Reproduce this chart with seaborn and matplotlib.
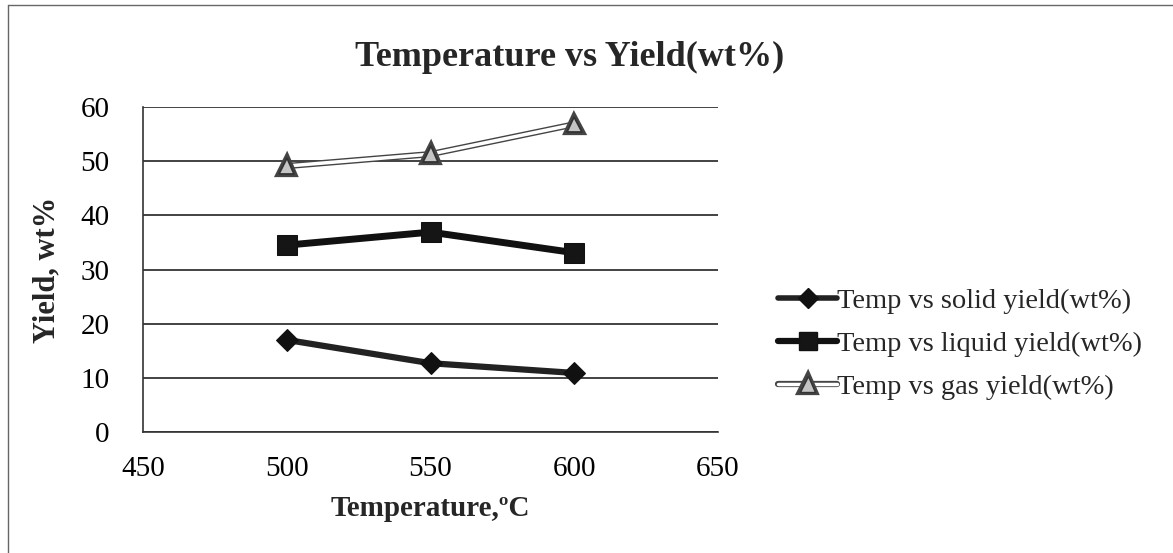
import matplotlib
matplotlib.use("Agg")
import matplotlib.pyplot as plt
import matplotlib.patheffects as pe
from matplotlib.lines import Line2D
import seaborn as sns
import pandas as pd

temps = [500, 550, 600]
solid = [17.0, 12.7, 10.9]
liquid = [34.5, 36.9, 33.1]
gas = [49.1, 51.3, 56.8]
labels = ["Temp vs solid yield(wt%)", "Temp vs liquid yield(wt%)", "Temp vs gas yield(wt%)"]
xticks = [450, 500, 550, 600, 650]
yticks = [0, 10, 20, 30, 40, 50, 60]

sns.set_theme(style="white")
plt.rcParams['font.family'] = ['Liberation Serif', 'DejaVu Serif']

fig = plt.figure(figsize=(11.73, 5.53), dpi=100)
ax = fig.add_axes([143/1173, 1 - 432/553, 575/1173, 325/553])

df_s = pd.DataFrame({"T": temps, "Y": solid})
df_l = pd.DataFrame({"T": temps, "Y": liquid})
df_g = pd.DataFrame({"T": temps, "Y": gas})

sns.lineplot(data=df_s, x="T", y="Y", ax=ax, color="#222222", lw=4.5,
             marker="D", markersize=11, markerfacecolor="#111111",
             markeredgecolor="#111111", zorder=3)
sns.lineplot(data=df_l, x="T", y="Y", ax=ax, color="#111111", lw=5,
             marker="s", markersize=15, markerfacecolor="#151515",
             markeredgecolor="#111111", zorder=3)
sns.lineplot(data=df_g, x="T", y="Y", ax=ax, color="white", lw=2.5,
             marker="^", markersize=11, markerfacecolor="#c4c4c4",
             markeredgecolor="#333333", markeredgewidth=1.3, zorder=3,
             path_effects=[pe.Stroke(linewidth=4.5, foreground="#444444"), pe.Normal()])

ax.set_xlim(450, 650)
ax.set_ylim(0, 60)
ax.set_xticks(xticks)
ax.set_yticks(yticks)
ax.tick_params(axis="x", labelsize=21, colors="black", length=0, pad=17)
ax.tick_params(axis="y", labelsize=21, colors="black", length=0, pad=24)
ax.yaxis.grid(True, color="#222222", lw=1.2)
ax.xaxis.grid(False)
for side in ["top", "right"]:
    ax.spines[side].set_visible(False)
for side in ["left", "bottom"]:
    ax.spines[side].set_color("#333333")
    ax.spines[side].set_linewidth(1.2)

ax.set_xlabel("Temperature,ºC", fontsize=21, fontweight="bold", labelpad=10)
ax.set_ylabel("Yield, wt%", fontsize=22, fontweight="bold", labelpad=14)
fig.text(570/1173, 1 - 57/553, "Temperature vs Yield(wt%)", ha="center", va="center",
         fontsize=26, fontweight="bold")

handles = [
    Line2D([], [], color="#222222", lw=4, marker="D", markersize=10, markerfacecolor="#111111", markeredgecolor="#111111"),
    Line2D([], [], color="#111111", lw=4.5, marker="s", markersize=13, markerfacecolor="#151515", markeredgecolor="#111111"),
    Line2D([], [], color="white", lw=2.5, marker="^", markersize=11, markerfacecolor="#c4c4c4", markeredgecolor="#333333",
           path_effects=[pe.Stroke(linewidth=4.5, foreground="#444444"), pe.Normal()]),
]
fig.legend(handles, labels, loc="center left", bbox_to_anchor=(752/1173, 1 - 344/553),
           frameon=False, fontsize=20.5, handlelength=2.1, handletextpad=0.0, labelspacing=0.6)

# frame of the figure
fig.add_artist(Line2D([8/1173, 8/1173], [0, 1 - 5/553], transform=fig.transFigure, color="#666666", lw=1))
fig.add_artist(Line2D([8/1173, 1], [1 - 5/553, 1 - 5/553], transform=fig.transFigure, color="#666666", lw=1))

fig.savefig("out.png", dpi=100, facecolor="white")
